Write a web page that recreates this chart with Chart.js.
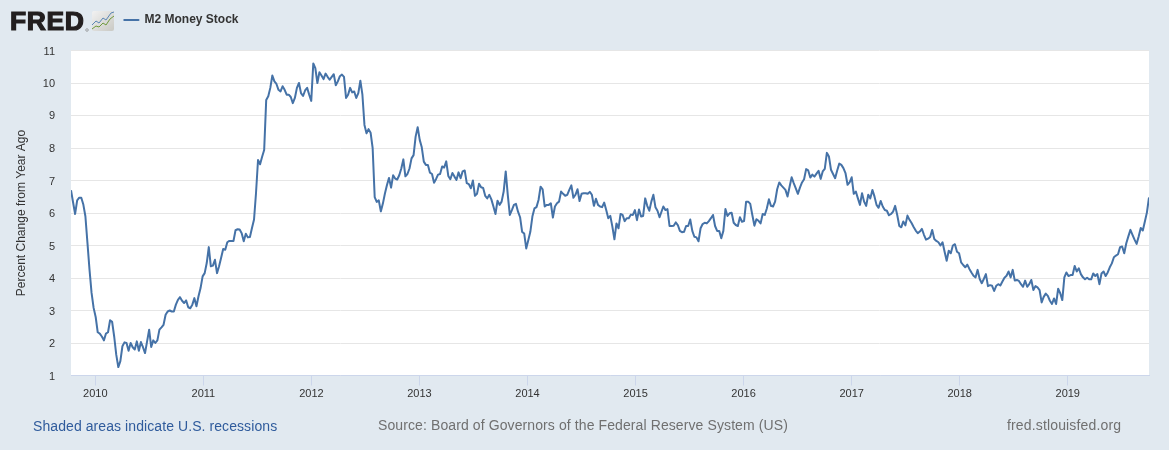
<!DOCTYPE html>
<html><head><meta charset="utf-8">
<style>
html,body{margin:0;padding:0;background:#e1e9f0;width:1169px;height:450px;overflow:hidden;font-family:"Liberation Sans",Arial,sans-serif}
#c{position:absolute;left:0;top:0}
.t{position:absolute;white-space:nowrap;font-size:14px;line-height:16px}
#logo{position:absolute;left:10px;top:5px;font:bold 26.5px/32px "Liberation Sans",Arial,sans-serif;color:#231f20;-webkit-text-stroke:1.2px #231f20;letter-spacing:0.6px}
#icon{position:absolute;left:92px;top:11px}
#mark{position:absolute;left:85px;top:28px}
</style></head><body>
<canvas id="c" width="1169" height="450"></canvas>
<div id="logo">FRED</div>
<svg id="mark" width="4" height="4"><circle cx="2" cy="2" r="1.3" fill="none" stroke="#777" stroke-width="0.6"/></svg>
<svg id="icon" width="23" height="21" viewBox="0 0 23 21"><defs><linearGradient id="g" x1="0" y1="0" x2="1" y2="1"><stop offset="0" stop-color="#f2f2f2"/><stop offset="1" stop-color="#c9c9c4"/></linearGradient></defs><rect x="0" y="0" width="22" height="20" rx="2" fill="url(#g)"/><polyline points="0,14 4,10 7,12 11,7 14,9 19,2 22,1" fill="none" stroke="#5b87b5" stroke-width="1"/><polyline points="0,18 4,15 7,16 11,12 14,14 18,8 22,5" fill="none" stroke="#6f9a3c" stroke-width="1"/></svg>
<div class="t" style="left:33px;top:418px;color:#2f5b9c;letter-spacing:0.08px">Shaded areas indicate U.S. recessions</div>
<div class="t" style="left:378px;top:417px;color:#707070;letter-spacing:0.1px">Source: Board of Governors of the Federal Reserve System (US)</div>
<div class="t" style="left:1007px;top:417px;color:#707070;letter-spacing:0.15px">fred.stlouisfed.org</div>
<script src="https://cdn.jsdelivr.net/npm/chart.js@4"></script>
<script>
const seriesName = "M2 Money Stock";
const yAxisTitle = "Percent Change from Year Ago";
const yearTicks = [2010,2011,2012,2013,2014,2015,2016,2017,2018,2019];
const percentTicks = [1,2,3,4,5,6,7,8,9,10,11];

const values2009 = [6.70,6.33,5.97,6.39,6.47,6.47,6.26,5.90,5.08,4.26,3.54,3.08,2.80,2.33,2.29,2.20,2.08,2.29,2.33,2.70,2.65,2.20,1.64,1.26,1.44,1.90,2.02,2.00,1.76,2.00,1.87,1.80,2.05,1.76,2.03,1.87,1.69,2.05,2.41,1.88,2.08,2.00,2.08,2.41,2.48,2.56,2.87,2.97,3.00,2.97,2.97,3.18,3.33,3.41,3.30,3.23,3.31,3.10,3.07,3.18,3.38,3.13,3.44,3.69,4.05,4.15,4.46,4.95,4.36,4.38,4.56,4.15,4.36,4.62,4.89,4.87,5.10,5.14,5.14,5.14,5.47,5.50,5.49,5.38,5.13,5.36,5.25,5.26,5.54,5.80];
const values2011 = [6.60,7.63,7.50,7.73,7.94,9.48,9.59,9.85,10.23,10.05,9.97,9.79,9.74,9.90,9.79,9.64,9.64,9.57,9.38,9.54,9.85,10.00,9.69,9.60,9.77,9.85,9.64,9.45,10.60,10.46,10.00,10.33,10.23,10.12,10.29,10.19,10.10,10.19,10.27,9.93,10.05,10.21,10.26,10.19,9.54,9.64,9.85,9.71,9.74,9.54,9.69,10.07,9.64,8.71,8.45,8.58,8.47,8.00,6.49,6.34,6.39,6.05,6.29,6.60,6.86,7.08,6.78,7.16,7.06,7.03,7.16,7.37,7.65,7.13,7.20,7.37,7.68,7.78,8.35,8.64,8.25,8.02,7.58,7.48,7.48,7.24,7.20,6.93];
const values2013 = [7.04,7.18,7.20,7.43,7.40,7.59,7.14,7.04,7.23,7.12,7.02,7.25,7.07,7.28,7.31,6.92,6.89,6.76,7.00,6.53,6.59,6.90,6.79,6.77,6.53,6.45,6.56,6.42,6.20,5.97,6.38,6.25,6.35,6.66,7.28,6.56,5.94,6.09,6.25,6.28,6.04,5.87,5.42,5.37,4.91,5.16,5.42,5.89,6.14,6.18,6.40,6.81,6.73,6.20,6.25,6.25,6.30,5.86,6.20,6.30,6.35,6.66,6.59,6.53,6.56,6.71,6.85,6.47,6.56,6.73,6.37,6.59,6.61,6.61,6.59,6.65,6.56,6.22,6.44,6.25,6.20,6.18,6.32,6.09,5.84,5.91,5.58,5.19,5.68,5.53,5.97,5.94,5.75,5.84,5.84,5.95,5.94,6.09,5.78,6.11,5.89,5.91,6.45,6.22,6.07,6.35,6.56,6.18,6.07,5.87];
const values2015 = [6.20,6.09,6.12,5.60,5.60,5.61,5.71,5.63,5.45,5.41,5.42,5.60,5.60,5.80,5.45,5.27,5.25,5.13,5.53,5.66,5.70,5.68,5.75,5.84,5.94,5.60,5.45,5.45,5.22,5.45,6.12,5.91,5.99,6.01,5.70,5.63,5.60,5.87,5.73,5.75,6.35,6.35,6.28,5.94,5.61,5.81,5.76,5.68,5.97,5.94,6.14,6.42,6.22,6.20,6.35,6.73,6.94,6.85,6.78,6.71,6.51,6.81,7.10,6.92,6.76,6.59,6.78,6.94,7.04,7.35,7.31,7.09,7.18,7.12,7.21,7.30,7.05,7.28,7.36,7.85,7.74,7.33,7.20,7.07,7.31,7.52,7.48,7.38,7.23,6.87,6.94,7.10,6.59,6.66,6.45,6.25,6.61,6.35,6.22,6.56,6.45,6.71,6.51,6.25,6.16,6.37,6.20,6.09,6.07,5.93,5.97,6.04,6.22,5.94,5.60];
const values2017 = [5.56,5.74,5.62,5.92,5.79,5.69,5.57,5.46,5.38,5.43,5.51,5.33,5.18,5.21,5.26,5.48,5.20,5.14,5.10,5.00,5.10,4.81,4.53,4.84,4.76,5.00,5.04,4.81,4.76,4.48,4.40,4.33,4.41,4.28,4.17,4.07,4.02,4.25,3.97,3.84,3.97,4.12,3.75,3.78,3.76,3.60,3.76,3.81,3.77,3.89,4.01,4.07,4.20,4.02,4.25,3.92,3.94,3.91,3.81,3.73,3.92,3.73,3.81,3.94,3.63,3.75,3.71,3.63,3.25,3.42,3.52,3.45,3.30,3.20,3.37,3.20,3.67,3.53,3.32,4.02,4.17,4.06,4.09,4.09,4.37,4.20,4.30,4.12,4.02,3.96,4.01,3.96,3.96,4.14,4.06,4.12,3.81,4.14,4.20,4.06,4.17,4.33,4.45,4.64,4.69,4.73,4.95,4.97,4.76,5.07,5.28,5.48,5.33,5.18,5.05,5.28,5.54,5.46,5.74,6.02,6.48];

const spans = [
  [values2009, 2009.775, 2011.469],
  [values2011, 2011.487, 2013.135],
  [values2013, 2013.153, 2015.222],
  [values2015, 2015.257, 2017.441],
  [values2017, 2017.459, 2019.752]
];
const points = [];
spans.forEach(([vals, from, to]) => vals.forEach((v, i) => {
  points.push({x: from + i * (to - from) / (vals.length - 1), y: v});
}));

const plotBg = {
  id: 'plotBg',
  beforeDraw(chart) {
    const a = chart.chartArea, c = chart.ctx;
    const top = Math.floor(a.top), bottom = Math.ceil(a.bottom);
    c.save(); c.fillStyle = '#ffffff'; c.fillRect(a.left, top, a.width, bottom - top); c.restore();
    chart.scales.y.getLabelItems().forEach(it => {
      if (!it._moved) { it.options.translation[1] = Math.round(it.options.translation[1]) + 1; it._moved = true; }
    });
  }
};
const placeLegend = {
  id: 'placeLegend',
  afterLayout(chart) {
    const l = chart.legend;
    l.left = 123.5; l.right = 400; l.top = 14; l.bottom = 28;
  }
};

new Chart(document.getElementById('c'), {
  type: 'line',
  data: { datasets: [{
    label: seriesName, data: points, borderColor: '#4572a7', backgroundColor: '#4572a7',
    borderWidth: 2, pointRadius: 0, tension: 0, fill: false, borderJoinStyle: 'round'
  }]},
  plugins: [plotBg, placeLegend],
  options: {
    responsive: false, animation: false, parsing: true,
    layout: { padding: { left: 0, right: 20, top: 28.5, bottom: 0 } },
    plugins: {
      tooltip: { enabled: false },
      legend: {
        display: true, position: 'top', align: 'start',
        labels: { boxWidth: 15, boxHeight: 0, padding: 0, color: '#333333',
                  font: { family: '"Liberation Sans", Arial, sans-serif', size: 12, weight: 'bold' } }
      }
    },
    scales: {
      x: {
        type: 'linear', min: 2009.775, max: 2019.752,
        afterBuildTicks(s) { s.ticks = yearTicks.map(v => ({ value: v })); },
        afterFit(s) { s.height = 74.5; },
        grid: { drawOnChartArea: false, drawTicks: true, tickLength: 10, tickColor: '#ccd6eb', tickWidth: 1 },
        border: { display: true, color: '#ccd6eb', width: 1 },
        ticks: { callback: v => String(v), autoSkip: false, maxRotation: 0, minRotation: 0, padding: 2, color: '#333333',
                 font: { family: '"Liberation Sans", Arial, sans-serif', size: 11 } }
      },
      y: {
        min: 1, max: 11,
        afterBuildTicks(s) { s.ticks = percentTicks.map(v => ({ value: v })); },
        afterFit(s) { s.width = 71; },
        grid: { color: '#e6e6e6', lineWidth: 1, drawTicks: false },
        border: { display: false },
        title: { display: true, text: yAxisTitle, color: '#333333', padding: { top: 14, bottom: 0 },
                 font: { family: '"Liberation Sans", Arial, sans-serif', size: 12 } },
        ticks: { padding: 16, color: '#333333', autoSkip: false, callback: v => String(v),
                 font: { family: '"Liberation Sans", Arial, sans-serif', size: 11 } }
      }
    }
  }
});
</script>
</body></html>
